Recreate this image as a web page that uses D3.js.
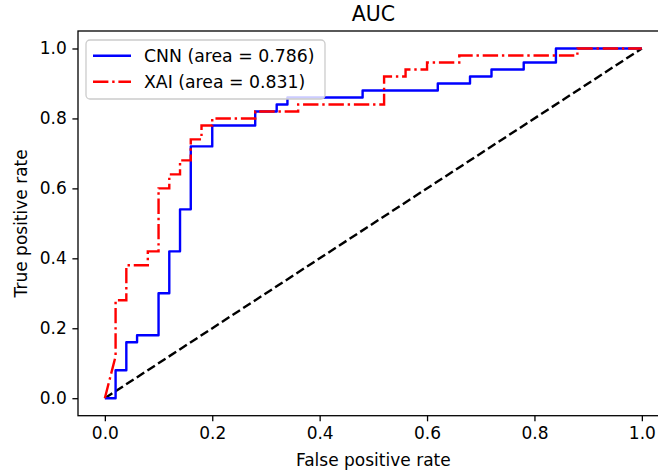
<!DOCTYPE html>
<html>
<head>
<meta charset="utf-8">
<script src="https://cdn.jsdelivr.net/npm/d3@7"></script>
<style>
  body { margin: 0; background: #fff; }
  svg { display: block; font-family: "DejaVu Sans", sans-serif; }
</style>
</head>
<body>
<svg width="658" height="474"></svg>
<script>
// ROC points
const cnnFpr = [0, 0.02, 0.02, 0.04, 0.04, 0.06, 0.06, 0.10, 0.10, 0.12, 0.12, 0.14, 0.14, 0.16, 0.16, 0.20, 0.20, 0.28, 0.28, 0.32, 0.32, 0.34, 0.34, 0.48, 0.48, 0.62, 0.62, 0.68, 0.68, 0.72, 0.72, 0.78, 0.78, 0.84, 0.84, 1.0];
const cnnTpr = [0, 0, 0.08, 0.08, 0.16, 0.16, 0.18, 0.18, 0.30, 0.30, 0.42, 0.42, 0.54, 0.54, 0.72, 0.72, 0.78, 0.78, 0.82, 0.82, 0.84, 0.84, 0.86, 0.86, 0.88, 0.88, 0.90, 0.90, 0.92, 0.92, 0.94, 0.94, 0.96, 0.96, 1.0, 1.0];

const xaiFpr = [0, 0.02, 0.02, 0.04, 0.04, 0.08, 0.08, 0.10, 0.10, 0.12, 0.12, 0.14, 0.14, 0.16, 0.16, 0.18, 0.18, 0.20, 0.20, 0.28, 0.28, 0.36, 0.36, 0.52, 0.52, 0.56, 0.56, 0.60, 0.60, 0.66, 0.66, 0.88, 0.88, 1.0];
const xaiTpr = [0, 0.12, 0.28, 0.28, 0.38, 0.38, 0.42, 0.42, 0.60, 0.60, 0.64, 0.64, 0.68, 0.68, 0.74, 0.74, 0.78, 0.78, 0.80, 0.80, 0.82, 0.82, 0.84, 0.84, 0.92, 0.92, 0.94, 0.94, 0.96, 0.96, 0.98, 0.98, 1.0, 1.0];

const chanceLine = [0, 1];
const tickValues = [0, 0.2, 0.4, 0.6, 0.8, 1.0];

const seriesNames = ["CNN (area = 0.786)", "XAI (area = 0.831)"];

let svg = d3.select("svg");

// area of the axes (right spine falls just outside the window, as in the picture)
const area = { left: 78, top: 31, right: 668.7, bottom: 415.7 };

const scX = d3.scaleLinear().domain([-0.05, 1.05]).range([area.left, area.right]);
const scY = d3.scaleLinear().domain([-0.05, 1.05]).range([area.bottom, area.top]);

const line = d3.line().x(d => scX(d[0])).y(d => scY(d[1]));

// chance diagonal
svg.append("path")
    .datum(chanceLine.map(v => [v, v]))
    .attr("d", line)
    .attr("fill", "none")
    .attr("stroke", "black")
    .attr("stroke-width", 2.4)
    .attr("stroke-dasharray", "8.9,3.8");

// CNN curve
svg.append("path")
    .datum(cnnFpr.map((f, i) => [f, cnnTpr[i]]))
    .attr("d", line)
    .attr("fill", "none")
    .attr("stroke", "#0000ff")
    .attr("stroke-width", 2.4)
    .attr("stroke-linejoin", "round");

// XAI curve
svg.append("path")
    .datum(xaiFpr.map((f, i) => [f, xaiTpr[i]]))
    .attr("d", line)
    .attr("fill", "none")
    .attr("stroke", "#ff0000")
    .attr("stroke-width", 2.4)
    .attr("stroke-dasharray", "15.4,3.8,2.4,3.8");

// axes
let axisX = d3.axisBottom(scX).tickValues(tickValues).tickFormat(d3.format(".1f")).tickSize(5.6).tickPadding(5.6);
let axisY = d3.axisLeft(scY).tickValues(tickValues).tickFormat(d3.format(".1f")).tickSize(5.6).tickPadding(5.6);

let gx = svg.append("g")
    .attr("transform", `translate(0, ${area.bottom})`)
    .call(axisX);
let gy = svg.append("g")
    .attr("transform", `translate(${area.left}, 0)`)
    .call(axisY);

[gx, gy].forEach(g => {
    g.select(".domain").remove();
    g.selectAll(".tick line").attr("stroke", "black").attr("stroke-width", 1.3);
    g.selectAll(".tick text")
        .attr("fill", "black")
        .style("font-family", "DejaVu Sans")
        .style("font-size", "17px");
});

// spines
svg.append("rect")
    .attr("x", area.left)
    .attr("y", area.top)
    .attr("width", area.right - area.left)
    .attr("height", area.bottom - area.top)
    .attr("fill", "none")
    .attr("stroke", "black")
    .attr("stroke-width", 1.3);

// title and labels
svg.append("text")
    .attr("x", (area.left + area.right) / 2)
    .attr("y", 21)
    .attr("text-anchor", "middle")
    .style("font-size", "20.5px")
    .text("AUC");

svg.append("text")
    .attr("x", (area.left + area.right) / 2)
    .attr("y", 466)
    .attr("text-anchor", "middle")
    .style("font-size", "17px")
    .text("False positive rate");

svg.append("text")
    .attr("transform", `translate(27, ${(area.top + area.bottom) / 2}) rotate(-90)`)
    .attr("text-anchor", "middle")
    .style("font-size", "17px")
    .text("True positive rate");

// legend
const legend = svg.append("g");
legend.append("rect")
    .attr("x", 86)
    .attr("y", 40)
    .attr("width", 239)
    .attr("height", 59)
    .attr("rx", 4)
    .attr("fill", "white")
    .attr("fill-opacity", 0.8)
    .attr("stroke", "#cccccc")
    .attr("stroke-width", 1.3);

const legendStyles = [
    { color: "#0000ff", dash: null },
    { color: "#ff0000", dash: "15.4,3.8,2.4,3.8" }
];

seriesNames.forEach((name, i) => {
    const cy = 55.7 + i * 26;
    legend.append("line")
        .attr("x1", 93).attr("x2", 131)
        .attr("y1", cy).attr("y2", cy)
        .attr("stroke", legendStyles[i].color)
        .attr("stroke-width", 2.4)
        .attr("stroke-dasharray", legendStyles[i].dash);
    legend.append("text")
        .attr("x", 144)
        .attr("y", cy)
        .attr("dy", "0.36em")
        .style("font-size", "17.3px")
        .text(name);
});
</script>
</body>
</html>
